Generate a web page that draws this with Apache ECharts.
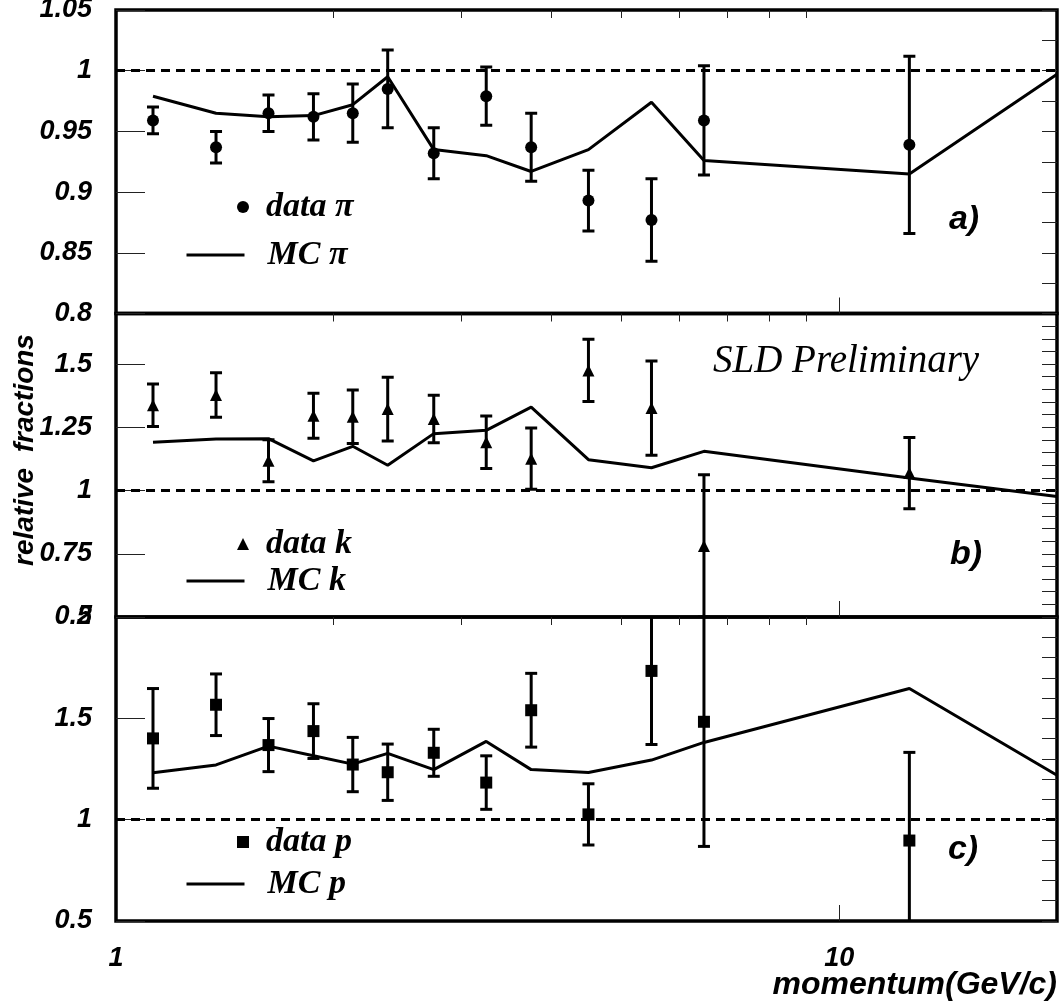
<!DOCTYPE html>
<html><head><meta charset="utf-8">
<script src="https://cdn.jsdelivr.net/npm/echarts@6/dist/echarts.min.js"></script>
<style>html,body{margin:0;padding:0;background:#fff}#c{width:1063px;height:1004px}</style>
</head><body><div id="c"></div>
<script>
// ---- data ----
const momentum   = [1.125, 1.375, 1.625, 1.875, 2.125, 2.375, 2.75, 3.25, 3.75, 4.5, 5.5, 6.5, 12.5];
const mcMomentum = [1.125, 1.375, 1.625, 1.875, 2.125, 2.375, 2.75, 3.25, 3.75, 4.5, 5.5, 6.5, 12.5, 20];

const piData = [0.959, 0.937, 0.965, 0.962, 0.965, 0.985, 0.932, 0.979, 0.937, 0.893, 0.877, 0.959, 0.939];
const piErr  = [0.011, 0.013, 0.015, 0.019, 0.024, 0.032, 0.021, 0.024, 0.028, 0.025, 0.034, 0.045, 0.073];
const piMC   = [0.979, 0.965, 0.962, 0.963, 0.972, 0.995, 0.935, 0.930, 0.917, 0.935, 0.974, 0.926, 0.915, 0.997];

const kData = [1.337, 1.378, 1.118, 1.296, 1.292, 1.322, 1.283, 1.191, 1.126, 1.475, 1.326, 0.781, 1.069];
const kErr  = [0.084, 0.088, 0.083, 0.089, 0.106, 0.126, 0.094, 0.104, 0.121, 0.123, 0.186, 0.281, 0.141];
const kMC   = [1.191, 1.204, 1.205, 1.117, 1.175, 1.100, 1.225, 1.238, 1.330, 1.122, 1.090, 1.155, 1.050, 0.976];

const pData = [1.401, 1.567, 1.368, 1.437, 1.272, 1.234, 1.330, 1.183, 1.540, 1.026, 1.734, 1.483, 0.897];
const pErr  = [0.246, 0.152, 0.131, 0.135, 0.134, 0.139, 0.116, 0.132, 0.182, 0.151, 0.363, 0.615, 0.435];
const pMC   = [1.231, 1.270, 1.363, 1.315, 1.274, 1.327, 1.247, 1.386, 1.247, 1.233, 1.294, 1.381, 1.647, 1.219];

const xMajorTicks = [10];
const xMinorTicks = [2, 3, 4, 5, 6, 7, 8, 9];
const xTickLabels = [1, 10];
const xRange = [1, 20];

const panelNames = ['π', 'k', 'p'];
const panelTags  = ['a)', 'b)', 'c)'];
const yRanges    = [[0.8, 1.05], [0.5, 1.7], [0.5, 2]];
const yMajorStep = [0.05, 0.25, 0.5];
const yMinorStep = [0.025, 0.05, 0.1];
const refLine = 1;

const SANS = '"Liberation Sans", Arial, Helvetica, sans-serif';
const SERIF = '"Liberation Serif", "Times New Roman", serif';

const dataSets = [
  {vals: piData, err: piErr, mc: piMC, symbol: 'circle'},
  {vals: kData, err: kErr, mc: kMC, symbol: 'triangle'},
  {vals: pData, err: pErr, mc: pMC, symbol: 'rect'}
];

const grids = [
  {left: 116, right: 6, top: 10, height: 303.5},
  {left: 116, right: 6, top: 313.5, height: 303.5},
  {left: 116, right: 6, top: 617, height: 304}
];

const labelFont = {fontFamily: SANS, fontWeight: 'bold', fontStyle: 'italic', fontSize: 27, color: '#000'};
const thinTick = {color: '#222', width: 1};

const option = {
  animation: false,
  backgroundColor: '#fff',
  grid: grids.map(g => Object.assign({show: true, borderColor: '#000', borderWidth: 3.5, backgroundColor: 'transparent', outerBoundsMode: 'none', containLabel: false}, g)),
  xAxis: [],
  yAxis: [],
  series: [],
  legend: [],
  graphic: []
};

for (let g = 0; g < 3; g++) {
  const bottom = g === 2;
  // major x axis
  option.xAxis.push({
    type: 'log', logBase: 10, gridIndex: g, min: xRange[0], max: xRange[1],
    axisLine: {show: false}, splitLine: {show: false}, minorTick: {show: false},
    axisTick: {show: true, inside: true, length: 16, lineStyle: thinTick, customValues: xMajorTicks},
    axisLabel: bottom ? Object.assign({show: true, margin: 24, customValues: xTickLabels,
      formatter: v => String(Math.round(v))}, labelFont) : {show: false}
  });
  // minor x axis
  option.xAxis.push({
    type: 'log', logBase: 10, gridIndex: g, min: xRange[0], max: xRange[1],
    axisLine: {show: false}, splitLine: {show: false},
    axisTick: {show: true, inside: true, length: 8, lineStyle: thinTick, customValues: xMinorTicks},
    axisLabel: {show: false}
  });
  // major y axis
  option.yAxis.push({
    type: 'value', gridIndex: g, min: yRanges[g][0], max: yRanges[g][1], interval: yMajorStep[g],
    axisLine: {show: false}, splitLine: {show: false},
    axisTick: {show: true, inside: true, length: 29, lineStyle: thinTick},
    axisLabel: Object.assign({show: true, margin: 24, showMinLabel: true, showMaxLabel: g !== 1,
      formatter: v => String(+v.toFixed(3))}, labelFont)
  });
  // minor y axis
  option.yAxis.push({
    type: 'value', gridIndex: g, min: yRanges[g][0], max: yRanges[g][1], interval: yMinorStep[g],
    axisLine: {show: false}, splitLine: {show: false},
    axisTick: {show: true, inside: true, length: 15, lineStyle: thinTick},
    axisLabel: {show: false}
  });

  const ds = dataSets[g];
  const nm = panelNames[g];
  const xi = 2 * g, yi = 2 * g;

  // reference dashed line + MC line
  option.series.push({
    name: 'MC ' + nm, type: 'line', xAxisIndex: xi, yAxisIndex: yi,
    data: mcMomentum.map((x, i) => [x, ds.mc[i]]),
    symbol: 'none', showSymbol: false, color: '#000', lineStyle: {color: '#000', width: 3}, z: 3,
    markLine: {
      silent: true, symbol: ['none', 'none'], label: {show: false},
      lineStyle: {color: '#000', width: 3, type: [9, 6]},
      data: [{yAxis: refLine}]
    }
  });
  // error bars
  option.series.push({
    name: 'err ' + nm, type: 'custom', xAxisIndex: xi, yAxisIndex: yi, clip: true, z: 4,
    data: momentum.map((x, i) => [x, ds.vals[i], ds.err[i]]),
    encode: {x: 0, y: 1},
    renderItem: function (params, api) {
      const x = api.value(0), y = api.value(1), e = api.value(2);
      const t = api.coord([x, y + e]);
      const b = api.coord([x, y - e]);
      const hw = 6;
      const st = {stroke: '#000', lineWidth: 3};
      return {type: 'group', children: [
        {type: 'line', shape: {x1: t[0], y1: t[1], x2: b[0], y2: b[1]}, style: st},
        {type: 'line', shape: {x1: t[0] - hw, y1: t[1], x2: t[0] + hw, y2: t[1]}, style: st},
        {type: 'line', shape: {x1: b[0] - hw, y1: b[1], x2: b[0] + hw, y2: b[1]}, style: st}
      ]};
    }
  });
  // data points
  option.series.push({
    name: 'data ' + nm, type: 'scatter', xAxisIndex: xi, yAxisIndex: yi,
    data: momentum.map((x, i) => [x, ds.vals[i]]),
    symbol: ds.symbol, symbolSize: 12, symbolKeepAspect: true, color: '#000',
    itemStyle: {color: '#000', opacity: 1}, z: 5
  });

  // legends
  const legTop = [[190, 238], [527, 564], [825, 867]][g];
  const legText = {fontFamily: SERIF, fontWeight: 'bold', fontStyle: 'italic', fontSize: 34, color: '#000'};
  option.legend.push({
    data: ['data ' + nm], left: 237, top: legTop[0], padding: 0, itemWidth: 12, itemHeight: 12,
    selectedMode: false, itemStyle: {color: '#000', opacity: 1},
    textStyle: Object.assign({padding: [0, 0, 0, 12]}, legText)
  });
  option.legend.push({
    data: ['MC ' + nm], left: 185, top: legTop[1], padding: 0, itemWidth: 58, itemHeight: 12,
    selectedMode: false,
    itemStyle: {color: 'rgba(0,0,0,0)', borderColor: 'rgba(0,0,0,0)', borderWidth: 0, opacity: 0},
    lineStyle: {color: '#000', width: 3, opacity: 1},
    textStyle: Object.assign({padding: [0, 0, 0, 18]}, legText)
  });

  // panel tag
  const tagPos = [[964, 220], [966, 555], [963, 850]][g];
  option.graphic.push({
    type: 'text', x: tagPos[0], y: tagPos[1], silent: true,
    style: {text: panelTags[g], align: 'center', verticalAlign: 'middle',
      font: 'italic bold 34px ' + SANS, fill: '#000'}
  });
}

option.graphic.push({
  type: 'text', x: 713, y: 362, silent: true,
  style: {text: 'SLD Preliminary', align: 'left', verticalAlign: 'middle',
    font: 'italic 39px ' + SERIF, fill: '#000'}
});
option.graphic.push({
  type: 'text', x: 25, y: 450, rotation: Math.PI / 2, silent: true,
  style: {text: 'relative  fractions', align: 'center', verticalAlign: 'middle',
    font: 'italic bold 28px ' + SANS, fill: '#000'}
});
option.graphic.push({
  type: 'text', x: 1057, y: 985, silent: true,
  style: {text: 'momentum(GeV/c)', align: 'right', verticalAlign: 'middle',
    font: 'italic bold 32px ' + SANS, fill: '#000'}
});

const chart = echarts.init(document.getElementById('c'), null, {renderer: 'canvas'});
chart.setOption(option);
</script>
</body></html>
